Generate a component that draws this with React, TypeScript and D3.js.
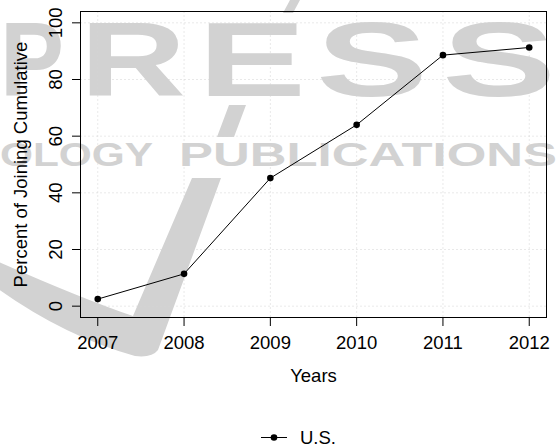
import React from "react";
import * as d3 from "d3";

const years = [2007, 2008, 2009, 2010, 2011, 2012];
const values = [2.5, 11.4, 45.2, 64.0, 88.6, 91.3];
const yTicks = [0, 20, 40, 60, 80, 100];
const seriesName = "U.S.";
const xLabel = "Years";
const yLabel = "Percent of Joining Cumulative";

const W = 557;
const H = 448;
const FONT = "'Liberation Sans', Arial, Helvetica, sans-serif";
const WM = "#d2d2d2";

export default function App() {
  const left = 80.5, right = 546.5, top = 11.5, bottom = 317.5;
  const x = d3.scaleLinear().domain([2006.8, 2012.2]).range([left, right]);
  const y = d3.scaleLinear().domain([-4, 104]).range([bottom, top]);
  const line = d3
    .line<number>()
    .x((_, i) => x(years[i]))
    .y((d) => y(d));
  const fs = 18.5;

  const bigLetters = [
    { ch: "P", x: 0, w: 64 },
    { ch: "R", x: 80, w: 106 },
    { ch: "E", x: 198, w: 108 },
    { ch: "S", x: 316, w: 112 },
    { ch: "S", x: 442, w: 114 },
  ];

  return (
    <svg
      width={W}
      height={H}
      style={{ position: "absolute", left: 0, top: 0, background: "#fff" }}
    >
      <rect width={W} height={H} fill="#fff" />
      {/* watermark */}
      <g fill={WM}>
        {bigLetters.map((l, i) => (
          <text
            key={i}
            x={l.x}
            y={96}
            fontFamily={FONT}
            fontWeight="bold"
            fontSize={105}
            textLength={l.w}
            lengthAdjust="spacingAndGlyphs"
          >
            {l.ch}
          </text>
        ))}
        <text
          x={0}
          y={166}
          fontFamily={FONT}
          fontWeight="bold"
          fontSize={33}
          textLength={153}
          lengthAdjust="spacingAndGlyphs"
        >
          OLOGY
        </text>
        <text
          x={179}
          y={166}
          fontFamily={FONT}
          fontWeight="bold"
          fontSize={33}
          textLength={378}
          lengthAdjust="spacingAndGlyphs"
        >
          PUBLICATIONS
        </text>
        <path d="M283,13 L293,13 L300,0 L290,0 Z" />
        <path d="M217,137 L234,137 L246,105 L229,105 Z" />
        <path d="M-10,258 Q80,298 133,316 L192,178 L221,178 L158,350 Q152,358 135,356 Q60,335 -10,283 Z" />
      </g>

      {/* grid */}
      <g stroke="#d3d3d3" strokeWidth={1} strokeDasharray="1,3">
        {years.map((yr) => (
          <line key={"gx" + yr} x1={x(yr)} x2={x(yr)} y1={top} y2={bottom} />
        ))}
        {yTicks.map((t) => (
          <line key={"gy" + t} x1={left} x2={right} y1={y(t)} y2={y(t)} />
        ))}
      </g>

      {/* box */}
      <rect
        x={left}
        y={top}
        width={right - left}
        height={bottom - top}
        fill="none"
        stroke="#000"
        strokeWidth={1}
      />

      {/* axes ticks */}
      <g stroke="#000" strokeWidth={1}>
        {years.map((yr) => (
          <line key={"tx" + yr} x1={x(yr)} x2={x(yr)} y1={bottom} y2={bottom + 8.5} />
        ))}
        {yTicks.map((t) => (
          <line key={"ty" + t} x1={left - 8.5} x2={left} y1={y(t)} y2={y(t)} />
        ))}
      </g>
      <g fontFamily={FONT} fontSize={fs} fill="#000">
        {years.map((yr) => (
          <text key={"lx" + yr} x={x(yr)} y={348.5} textAnchor="middle">
            {yr}
          </text>
        ))}
        {yTicks.map((t) => (
          <text
            key={"ly" + t}
            transform={`translate(62,${y(t)}) rotate(-90)`}
            textAnchor="middle"
          >
            {t}
          </text>
        ))}
        <text x={(left + right) / 2} y={382} textAnchor="middle">
          {xLabel}
        </text>
        <text
          transform={`translate(27,${(top + bottom) / 2}) rotate(-90)`}
          textAnchor="middle"
        >
          {yLabel}
        </text>
      </g>

      {/* series */}
      <path d={line(values) || ""} fill="none" stroke="#000" strokeWidth={1} />
      {values.map((v, i) => (
        <circle key={"p" + i} cx={x(years[i])} cy={y(v)} r={3.3} fill="#000" />
      ))}

      {/* legend */}
      <g>
        <line x1={261} x2={287} y1={437.5} y2={437.5} stroke="#000" strokeWidth={1} />
        <circle cx={274} cy={437.5} r={3.3} fill="#000" />
        <text x={300} y={444} fontFamily={FONT} fontSize={fs} fill="#000">
          {seriesName}
        </text>
      </g>
    </svg>
  );
}
